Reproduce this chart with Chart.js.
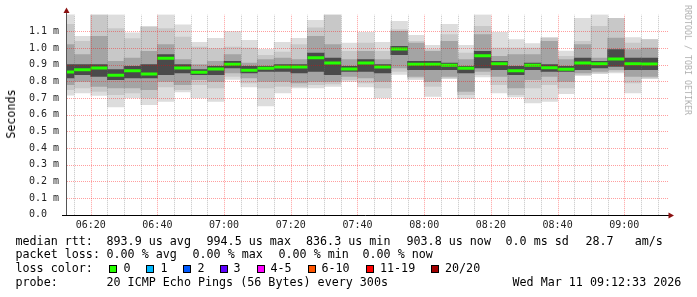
<!DOCTYPE html>
<html><head><meta charset="utf-8">
<script src="https://cdn.jsdelivr.net/npm/chart.js@4.4.0/dist/chart.umd.min.js"></script>
<style>
html,body{margin:0;padding:0;background:#fff;}
#wrap{position:relative;width:697px;height:297px;overflow:hidden;background:#fff;}
canvas{position:absolute;left:0;top:0;}
.t{position:absolute;font-family:"DejaVu Sans Mono",monospace;font-size:11.7px;white-space:pre;color:#000;line-height:14px;}
.box{position:absolute;width:6px;height:6px;border:1px solid #000;top:265px;}
.wm{position:absolute;font-family:"DejaVu Sans Mono",monospace;font-size:8.3px;white-space:pre;color:#b0b0b0;line-height:10px;}
</style></head><body>
<div id="wrap">
<canvas id="c" width="697" height="297"></canvas>
<div class="t" style="left:10.5px;top:114px;transform:translate(-50%,-50%) rotate(-90deg);">Seconds</div>
<div class="wm" style="left:688px;top:60px;transform:translate(-50%,-50%) rotate(90deg);">RRDTOOL / TOBI OETIKER</div>
<div id="legend"></div>
</div>
<script>
// ---- data (values in ms) ----
const slotStart = ['06:10','06:15','06:20','06:25','06:30','06:35','06:40','06:45','06:50','06:55',
  '07:00','07:05','07:10','07:15','07:20','07:25','07:30','07:35','07:40','07:45','07:50','07:55',
  '08:00','08:05','08:10','08:15','08:20','08:25','08:30','08:35','08:40','08:45','08:50','08:55',
  '09:00','09:05'];
const rttMin  = [0.717,0.73,0.716,0.646,0.70,0.66,0.68,0.736,0.70,0.68,0.812,0.766,0.652,0.73,0.76,0.76,0.77,0.80,0.766,0.70,0.842,0.81,0.71,0.816,0.696,0.826,0.73,0.706,0.67,0.68,0.726,0.834,0.846,0.85,0.73,0.816];
const lightLo = [0.75,0.76,0.74,0.72,0.73,0.70,0.766,0.75,0.78,0.76,0.83,0.79,0.76,0.77,0.77,0.78,0.785,0.81,0.79,0.76,0.86,0.82,0.77,0.82,0.72,0.84,0.78,0.72,0.76,0.78,0.76,0.84,0.85,0.86,0.79,0.82];
const rttLo   = [0.78,0.80,0.77,0.76,0.76,0.75,0.80,0.78,0.81,0.80,0.85,0.82,0.80,0.80,0.79,0.80,0.80,0.83,0.82,0.80,0.88,0.83,0.80,0.83,0.74,0.86,0.83,0.76,0.81,0.83,0.80,0.85,0.86,0.87,0.83,0.83];
const coreLo  = [0.82,0.84,0.83,0.81,0.82,0.82,0.84,0.85,0.84,0.84,0.88,0.85,0.86,0.86,0.85,0.86,0.84,0.86,0.86,0.85,0.96,0.87,0.87,0.87,0.85,0.88,0.87,0.84,0.87,0.86,0.86,0.87,0.88,0.89,0.87,0.87];
const median  = [0.856,0.87,0.88,0.836,0.864,0.844,0.938,0.88,0.854,0.874,0.902,0.866,0.878,0.886,0.886,0.942,0.91,0.874,0.91,0.886,0.9945,0.902,0.902,0.896,0.878,0.954,0.906,0.864,0.896,0.882,0.872,0.91,0.906,0.934,0.906,0.9038];
const coreHi  = [0.90,0.90,0.90,0.87,0.89,0.90,0.96,0.90,0.87,0.89,0.92,0.89,0.89,0.90,0.90,0.97,0.94,0.89,0.93,0.90,1.01,0.92,0.92,0.91,0.89,0.98,0.92,0.89,0.91,0.90,0.89,0.94,0.92,0.99,0.94,0.94];
const rttHi   = [1.02,0.96,1.07,0.92,0.94,0.98,1.02,0.93,0.90,0.92,0.96,0.91,0.93,0.94,0.93,1.07,1.02,0.93,0.98,0.93,1.10,1.03,0.98,1.04,0.93,1.08,0.95,0.96,0.96,1.04,0.93,1.02,0.94,1.06,0.99,1.00];
const lightHi = [1.142,1.04,1.198,1.116,1.056,1.126,1.116,1.066,1.006,0.996,1.006,1.0,0.956,0.976,1.02,1.12,1.198,0.98,1.03,0.98,1.11,1.04,0.99,1.08,0.97,1.13,1.0,1.0,1.0,1.06,0.95,1.04,1.13,1.178,1.03,1.05];
const rttMax  = [1.206,1.07,1.20,1.20,1.09,1.126,1.20,1.138,1.034,1.058,1.098,1.046,0.992,1.034,1.058,1.166,1.20,1.03,1.094,1.034,1.16,1.076,1.016,1.142,1.016,1.20,1.094,1.05,1.026,1.062,0.982,1.178,1.20,1.178,1.062,1.05];

const xTickLabels = ['06:20','06:40','07:00','07:20','07:40','08:00','08:20','08:40','09:00'];
const yTickValues = [0,0.1,0.2,0.3,0.4,0.5,0.6,0.7,0.8,0.9,1.0,1.1,1.2];
const yTickLabels = ['0.0  ','0.1 m','0.2 m','0.3 m','0.4 m','0.5 m','0.6 m','0.7 m','0.8 m','0.9 m','1.0 m','1.1 m',''];

const statsLine1 = ['median rtt:','893.9 us avg','994.5 us max','836.3 us min','903.8 us now','0.0 ms sd','28.7   am/s'];
const statsLine2 = ['packet loss:','0.00 % avg','0.00 % max','0.00 % min','0.00 % now'];
const lossLabels = ['0','1','2','3','4-5','6-10','11-19','20/20'];
const lossColors = ['#26ff00','#00b8ff','#0059ff','#5e00ff','#ff00ff','#ff5500','#ff0000','#a10000'];
const probeText = ['probe:','20 ICMP Echo Pings (56 Bytes) every 300s','Wed Mar 11 09:12:33 2026'];

// ---- legend text (HTML) ----
const L = document.getElementById('legend');
function addText(txt, x, top){ const d=document.createElement('div'); d.className='t'; d.style.left=x+'px'; d.style.top=top+'px'; d.textContent=txt; L.appendChild(d); }
const row1X = [15.5,106.5,206.5,306,406.5,505.5,585.5];
statsLine1.forEach((s,i)=>addText(s,row1X[i],233.6));
const row2X = [15.5,106.5,192.5,278.5,362.5];
statsLine2.forEach((s,i)=>addText(s,row2X[i],247.4));
addText('loss color:',15.5,261.1);
const boxX = [109,146,183,219.5,256.5,307.5,366,430.5];
const labX = [123.5,160.5,197.5,233.5,270.5,321.5,380,445];
lossLabels.forEach((s,i)=>{
  const b=document.createElement('div'); b.className='box'; b.style.left=boxX[i]+'px'; b.style.background=lossColors[i]; L.appendChild(b);
  addText(s,labX[i],261.1);
});
addText(probeText[0],15.5,274.8);
addText(probeText[1],106.5,274.8);
addText(probeText[2],512.5,274.8);

// ---- helpers ----
const toMin = s => { const [h,m] = s.split(':').map(Number); return h*60+m; };
const SLOT = 5;
const centers = slotStart.map(s => toMin(s) + SLOT/2);
const pairs = (a,b) => centers.map((x,i)=>({x, y:[a[i], b[i]]}));
const majorMin = xTickLabels.map(toMin);

const MAJOR = 'rgba(255,0,0,0.38)', MINOR = 'rgba(110,110,110,0.4)';

const gridPlugin = {
  id:'grid',
  afterDatasetsDraw(chart){
    const {ctx, chartArea:a, scales:{x, y}} = chart;
    ctx.save();
    ctx.lineWidth = 1; ctx.setLineDash([1,1]);
    for (let v = toMin(slotStart[1]); v <= x.max; v += SLOT) {
      const px = Math.round(x.getPixelForValue(v)) + 0.5;
      if (px <= a.left || px >= a.right) continue;
      ctx.strokeStyle = majorMin.includes(v) ? MAJOR : MINOR;
      ctx.beginPath(); ctx.moveTo(px, a.bottom); ctx.lineTo(px, a.top); ctx.stroke();
    }
    ctx.strokeStyle = MAJOR;
    yTickValues.forEach((v,i)=>{
      if (i===0 || i===yTickValues.length-1) return;
      const py = Math.round(y.getPixelForValue(v)) + 0.5;
      ctx.beginPath(); ctx.moveTo(a.left, py); ctx.lineTo(a.right, py); ctx.stroke();
    });
    ctx.restore();
  }
};

const axesPlugin = {
  id:'axes',
  afterDraw(chart){
    const {ctx, scales:{x}} = chart;
    ctx.save();
    ctx.strokeStyle = '#555'; ctx.lineWidth = 1;
    ctx.beginPath(); ctx.moveTo(66.5, 215.5); ctx.lineTo(66.5, 11); ctx.stroke();
    ctx.strokeStyle = '#000';
    ctx.beginPath(); ctx.moveTo(62, 215.5); ctx.lineTo(669, 215.5); ctx.stroke();
    ctx.fillStyle = '#8b1010';
    ctx.beginPath(); ctx.moveTo(66.5, 7.5); ctx.lineTo(63.5, 13); ctx.lineTo(69.5, 13); ctx.closePath(); ctx.fill();
    ctx.beginPath(); ctx.moveTo(674, 215.5); ctx.lineTo(668.5, 212.5); ctx.lineTo(668.5, 218.5); ctx.closePath(); ctx.fill();
    ctx.fillStyle = '#222';
    ctx.font = '10px "DejaVu Sans Mono"';
    ctx.textAlign = 'center'; ctx.textBaseline = 'alphabetic';
    xTickLabels.forEach((lab,i)=>{ ctx.fillText(lab, x.getPixelForValue(majorMin[i]), 228); });
    ctx.restore();
  }
};

const barBase = {type:'bar', grouped:false, borderWidth:0, borderSkipped:false, barPercentage:1, categoryPercentage:1, clip:0};

new Chart(document.getElementById('c'), {
  data:{
    datasets:[
      {type:'line', data: centers.map((x,i)=>({x, y:median[i]})), showLine:false, pointStyle:'line',
       pointRadius: c => { const s=c.chart.scales.x; return (s.getPixelForValue(SLOT)-s.getPixelForValue(0))/2; },
       pointHoverRadius: 0,
       pointBorderWidth:3, pointBorderColor:'#26ff00', pointBackgroundColor:'#26ff00', clip:0},
      Object.assign({data: pairs(coreLo, coreHi), backgroundColor:'#4a4a4a'}, barBase),
      Object.assign({data: pairs(rttLo, rttHi), backgroundColor:'#a4a4a4'}, barBase),
      Object.assign({data: pairs(lightLo, lightHi), backgroundColor:'#c8c8c8'}, barBase),
      Object.assign({data: pairs(rttMin, rttMax), backgroundColor:'#dddddd'}, barBase)
    ]
  },
  options:{
    responsive:false, animation:false, devicePixelRatio:1,
    layout:{padding:{left:0, right:29, top:14.6, bottom:82.2}},
    plugins:{legend:{display:false}, tooltip:{enabled:false}},
    scales:{
      x:{type:'linear', display:false, min:372.9, max:553.1, offset:false},
      y:{type:'linear', min:0, max:1.2,
        afterFit(s){ s.width = 67; },
        afterBuildTicks(s){ s.ticks = yTickValues.map(v=>({value:v})); },
        ticks:{autoSkip:false, padding:8, color:'#222', font:{family:'DejaVu Sans Mono', size:10},
          callback:(v,i)=> yTickLabels[i] !== undefined ? yTickLabels[i] : ''},
        grid:{display:false, drawTicks:false},
        border:{display:false}
      }
    }
  },
  plugins:[gridPlugin, axesPlugin]
});
</script>
</body></html>
